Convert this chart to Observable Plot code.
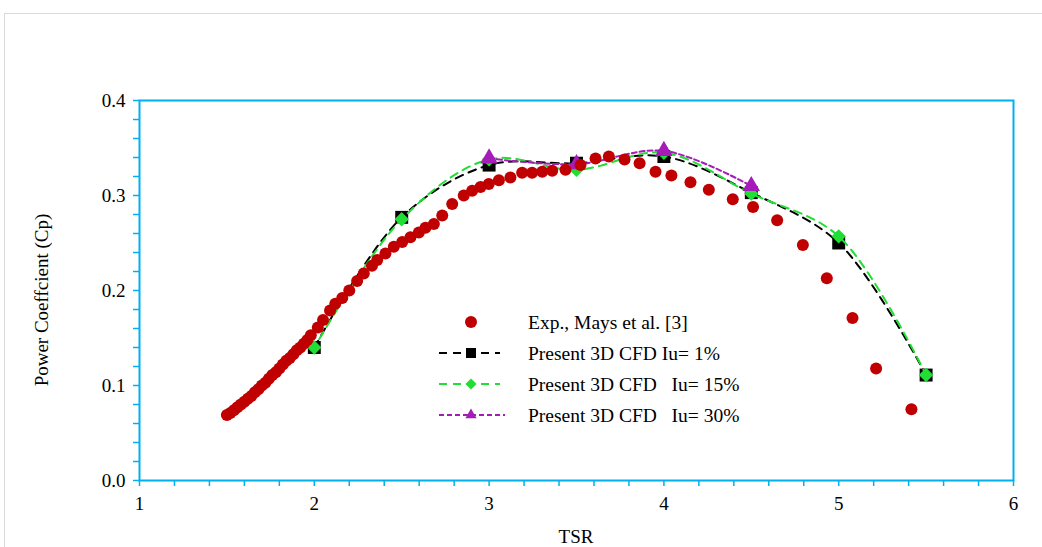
<!DOCTYPE html>
<html><head><meta charset="utf-8">
<script src="https://cdn.jsdelivr.net/npm/d3@7"></script>
<script src="https://cdn.jsdelivr.net/npm/@observablehq/plot@0.6"></script>
<style>
body{margin:0;background:#fff;}
#wrap{position:relative;width:1042px;height:547px;overflow:hidden;background:#fff;}
#border{position:absolute;left:4px;top:13px;width:1100px;height:600px;border:1px solid #d9d9d9;box-sizing:border-box;}
#chart{position:absolute;left:0;top:0;}
</style></head>
<body><div id="wrap"><div id="border"></div><div id="chart"></div></div>
<script>
// Experimental data (Mays et al.)
const expTSR = [1.50,1.52,1.54,1.56,1.58,1.60,1.62,1.64,1.66,1.68,1.70,1.72,1.74,1.76,1.78,1.80,1.82,1.84,1.86,1.88,1.90,1.92,1.94,1.96,1.98,2.02,2.05,2.09,2.12,2.16,2.20,2.245,2.283,2.33,2.36,2.407,2.455,2.503,2.55,2.598,2.636,2.684,2.732,2.789,2.855,2.903,2.951,2.998,3.056,3.122,3.189,3.246,3.304,3.361,3.437,3.523,3.609,3.685,3.775,3.861,3.952,4.043,4.152,4.257,4.394,4.51,4.648,4.795,4.932,5.079,5.214,5.416];
const expCp  = [0.069,0.071,0.074,0.077,0.080,0.083,0.086,0.089,0.093,0.096,0.100,0.103,0.107,0.111,0.114,0.118,0.122,0.126,0.129,0.133,0.137,0.140,0.144,0.148,0.153,0.161,0.169,0.179,0.186,0.192,0.200,0.210,0.218,0.226,0.232,0.239,0.246,0.251,0.256,0.261,0.266,0.270,0.279,0.291,0.300,0.305,0.309,0.312,0.316,0.319,0.324,0.324,0.325,0.326,0.327,0.332,0.339,0.341,0.338,0.334,0.325,0.321,0.314,0.306,0.296,0.288,0.274,0.248,0.213,0.171,0.118,0.075];
// Present 3D CFD
const cfd1TSR  = [2, 2.5, 3, 3.5, 4, 4.5, 5, 5.5];
const cfd1Cp   = [0.140, 0.277, 0.332, 0.334, 0.341, 0.303, 0.250, 0.111];
const cfd15TSR = [2, 2.5, 3, 3.5, 4, 4.5, 5, 5.5];
const cfd15Cp  = [0.140, 0.275, 0.338, 0.327, 0.345, 0.302, 0.257, 0.111];
const cfd30TSR = [3, 3.5, 4, 4.5];
const cfd30Cp  = [0.339, 0.333, 0.347, 0.310];
// Axis ticks
const xTicks = [1, 2, 3, 4, 5, 6];
const xMinorTicks = [1.2,1.4,1.6,1.8,2.2,2.4,2.6,2.8,3.2,3.4,3.6,3.8,4.2,4.4,4.6,4.8,5.2,5.4,5.6,5.8];
const yTicks = [0, 0.1, 0.2, 0.3, 0.4];
const yMinorTicks = [0.02,0.04,0.06,0.08,0.12,0.14,0.16,0.18,0.22,0.24,0.26,0.28,0.32,0.34,0.36,0.38];
const legendLabels = ["Exp., Mays et al. [3]", "Present 3D CFD Iu= 1%", "Present 3D CFD   Iu= 15%", "Present 3D CFD   Iu= 30%"];

const toRows = (xs, ys) => xs.map((x, i) => ({x, y: ys[i]}));
const exp = toRows(expTSR, expCp);
const c1 = toRows(cfd1TSR, cfd1Cp);
const c15 = toRows(cfd15TSR, cfd15Cp);
const c30 = toRows(cfd30TSR, cfd30Cp);

const BLUE = "#00b0f0", RED = "#c00000", GREEN = "#22dd33", PURPLE = "#a61cb8";
const SERIF = "'Liberation Serif', 'Times New Roman', serif";

const plot = Plot.plot({
  width: 1042, height: 547,
  marginLeft: 139, marginRight: 29, marginTop: 100, marginBottom: 67,
  style: {fontFamily: SERIF, fontSize: "19px", background: "transparent", overflow: "visible"},
  x: {domain: [1, 6]},
  y: {domain: [0, 0.4]},
  marks: [
    Plot.axisX({ticks: xMinorTicks, tickFormat: () => "", tickSize: 6, stroke: BLUE, strokeWidth: 1.5, label: null}),
    Plot.axisX({ticks: xTicks, tickFormat: d => String(d), tickSize: 6, tickPadding: 10, stroke: BLUE, strokeWidth: 1.5, label: null}),
    Plot.axisY({ticks: yMinorTicks, tickFormat: () => "", tickSize: 6, stroke: BLUE, strokeWidth: 1.5, label: null}),
    Plot.axisY({ticks: yTicks, tickFormat: d => d.toFixed(1), tickSize: 6, tickPadding: 8, stroke: BLUE, strokeWidth: 1.5, label: null}),
    Plot.frame({stroke: BLUE, strokeWidth: 2}),
    Plot.line(c1, {x: "x", y: "y", curve: "catmull-rom", stroke: "black", strokeWidth: 2, strokeDasharray: "8,6"}),
    Plot.dot(c1, {x: "x", y: "y", symbol: "square", r: 7.3, fill: "black"}),
    Plot.line(c15, {x: "x", y: "y", curve: "catmull-rom", stroke: GREEN, strokeWidth: 2, strokeDasharray: "8,6", strokeDashoffset: 4}),
    Plot.dot(c15, {x: "x", y: "y", symbol: "diamond2", r: 6.5, fill: GREEN}),
    Plot.line(c30, {x: "x", y: "y", curve: "catmull-rom", stroke: PURPLE, strokeWidth: 2, strokeDasharray: "5,3"}),
    Plot.dot(c30, {x: "x", y: "y", symbol: "triangle", r: 6.5, fill: PURPLE}),
    Plot.dot(exp, {x: "x", y: "y", r: 6, fill: RED})
  ]
});

const svg = d3.select(plot);
// axis titles
svg.append("text").attr("x", 576).attr("y", 543).attr("text-anchor", "middle")
  .style("font-family", SERIF).style("font-size", "19px").text("TSR");
svg.append("text").attr("transform", "translate(48,300) rotate(-90)").attr("text-anchor", "middle")
  .style("font-family", SERIF).style("font-size", "19px").text("Power Coeffcient (Cp)");

// legend
const lg = svg.append("g").style("font-family", SERIF).style("font-size", "19.5px");
const rowsY = [322, 353, 384, 415];
const items = [
  {type: "dot", color: RED},
  {type: "square", color: "black", dash: "8,6"},
  {type: "diamond", color: GREEN, dash: "8,6"},
  {type: "triangle", color: PURPLE, dash: "5,3"}
];
items.forEach((it, i) => {
  const y = rowsY[i];
  if (it.dash) {
    lg.append("line").attr("x1", 439).attr("x2", it.type === "triangle" ? 505 : 500).attr("y1", y).attr("y2", y)
      .attr("stroke", it.color).attr("stroke-width", 2).attr("stroke-dasharray", it.dash);
  }
  let sym;
  if (it.type === "dot") sym = d3.symbol(d3.symbolCircle, Math.PI * 36);
  else if (it.type === "square") sym = d3.symbol(d3.symbolSquare, 100);
  else if (it.type === "diamond") sym = d3.symbol(d3.symbolDiamond2, 80);
  else sym = d3.symbol(d3.symbolTriangle2, 90);
  lg.append("path").attr("d", sym()).attr("transform", `translate(471,${y})`).attr("fill", it.color);
  lg.append("text").attr("x", 528).attr("y", y).attr("dy", "0.35em").attr("text-anchor", "start")
    .style("white-space", "pre").text(legendLabels[i]);
});

document.getElementById("chart").appendChild(plot);
</script>
</body></html>
